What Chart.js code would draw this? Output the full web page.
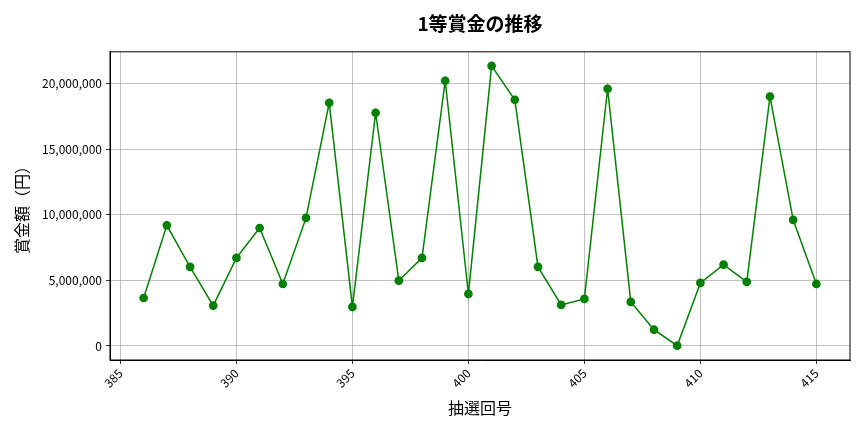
<!DOCTYPE html>
<html>
<head>
<meta charset="utf-8">
<script src="https://cdn.jsdelivr.net/npm/chart.js@4"></script>
<style>
  html, body { margin: 0; padding: 0; background: #fff; }
  #wrap { width: 864px; height: 432px; }
</style>
</head>
<body>
<div id="wrap"><canvas id="grafico"></canvas></div>
<script>
// dados
const rounds = [386, 387, 388, 389, 390, 391, 392, 393, 394, 395, 396, 397, 398, 399, 400,
                401, 402, 403, 404, 405, 406, 407, 408, 409, 410, 411, 412, 413, 414, 415];
const prizes = [3660000, 9200000, 6030000, 3080000, 6720000, 9000000, 4730000, 9770000, 18550000, 2980000,
                17790000, 4980000, 6720000, 20230000, 3970000, 21370000, 18780000, 6030000, 3130000, 3590000,
                19620000, 3360000, 1240000, 20000, 4810000, 6200000, 4890000, 19030000, 9620000, 4730000];
const xTicks = [385, 390, 395, 400, 405, 410, 415];
const yTicks = [0, 5000000, 10000000, 15000000, 20000000];

const fonte = '"Noto Sans CJK JP", "Noto Sans", sans-serif';

// moldura à volta da área do gráfico (como no matplotlib)
const moldura = {
    id: 'moldura',
    afterDraw(chart) {
        const a = chart.chartArea, c = chart.ctx;
        c.save();
        c.strokeStyle = '#000';
        c.lineWidth = 1;
        c.strokeRect(a.left, a.top, a.right - a.left, a.bottom - a.top);
        c.restore();
    }
};

const ctx = document.getElementById('grafico');

new Chart(ctx, {
    type: 'line',
    data: {
        datasets: [{
            label: '1等賞金',
            data: rounds.map((r, i) => ({ x: r, y: prizes[i] })),
            borderColor: '#008000',
            backgroundColor: '#008000',
            borderWidth: 1.5,
            pointRadius: 3.6,
            pointHoverRadius: 3.6,
            tension: 0
        }]
    },
    options: {
        responsive: true,
        maintainAspectRatio: false,
        animation: false,
        layout: { padding: { left: 8, right: 14, top: 0, bottom: 10 } },
        plugins: {
            legend: { display: false },
            tooltip: { enabled: false },
            title: {
                display: true,
                fullSize: false,
                text: '1等賞金の推移',
                color: '#000',
                font: { family: fonte, size: 19, weight: 'bold' },
                padding: { top: 12, bottom: 17 }
            }
        },
        scales: {
            x: {
                type: 'linear',
                min: 384.55,
                max: 416.45,
                afterBuildTicks: s => { s.ticks = xTicks.map(v => ({ value: v })); },
                afterFit: s => { s.height = 62; },
                grid: { color: '#b0b0b0', lineWidth: 0.8, tickColor: '#000', tickLength: 4 },
                border: { color: '#000' },
                ticks: {
                    color: '#000',
                    font: { family: fonte, size: 12 },
                    minRotation: 45,
                    maxRotation: 45,
                    padding: 2
                },
                title: {
                    display: true,
                    text: '抽選回号',
                    color: '#000',
                    font: { family: fonte, size: 16 },
                    padding: { top: 0 }
                }
            },
            y: {
                min: -1070000,
                max: 22440000,
                afterBuildTicks: s => { s.ticks = yTicks.map(v => ({ value: v })); },
                afterFit: s => { s.width = 102; },
                grid: { color: '#b0b0b0', lineWidth: 0.8, tickColor: '#000', tickLength: 4 },
                border: { color: '#000' },
                ticks: {
                    color: '#000',
                    font: { family: fonte, size: 12 },
                    padding: 4,
                    callback: v => v.toLocaleString('en-US')
                },
                title: {
                    display: true,
                    text: '賞金額（円）',
                    color: '#000',
                    font: { family: fonte, size: 16 }
                }
            }
        }
    },
    plugins: [moldura]
});
</script>
</body>
</html>
